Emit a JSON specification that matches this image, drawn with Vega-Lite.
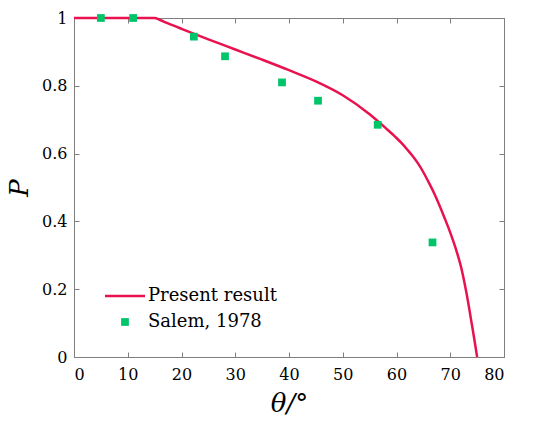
{
  "$schema": "https://vega.github.io/schema/vega-lite/v6.json",
  "width": 430,
  "height": 339,
  "autosize": "none",
  "padding": {"left": 74, "top": 18, "right": 46, "bottom": 78},
  "background": "white",
  "config": {
    "view": {"stroke": null},
    "font": "DejaVu Serif",
    "axis": {
      "domainColor": "#7f7f7f",
      "tickColor": "#7f7f7f",
      "grid": false,
      "labelColor": "black",
      "labelFont": "DejaVu Serif",
      "labelFontSize": 16,
      "titleFont": "DejaVu Serif",
      "titleFontWeight": "normal",
      "titleColor": "black",
      "titleFontStyle": "italic",
      "titleFontSize": 26,
      "tickSize": 5
    },
    "legend": {"labelFont": "DejaVu Serif"}
  },
  "datasets": {
    "present": [
      {"theta": 0, "P": 1, "series": "Present result"},
      {"theta": 15, "P": 1, "series": "Present result"},
      {"theta": 16, "P": 0.994, "series": "Present result"},
      {"theta": 17.5, "P": 0.984, "series": "Present result"},
      {"theta": 20, "P": 0.968, "series": "Present result"},
      {"theta": 25, "P": 0.937, "series": "Present result"},
      {"theta": 30, "P": 0.907, "series": "Present result"},
      {"theta": 35, "P": 0.877, "series": "Present result"},
      {"theta": 40, "P": 0.846, "series": "Present result"},
      {"theta": 45, "P": 0.813, "series": "Present result"},
      {"theta": 50, "P": 0.772, "series": "Present result"},
      {"theta": 55, "P": 0.716, "series": "Present result"},
      {"theta": 58, "P": 0.675, "series": "Present result"},
      {"theta": 60, "P": 0.646, "series": "Present result"},
      {"theta": 61, "P": 0.63, "series": "Present result"},
      {"theta": 62, "P": 0.612, "series": "Present result"},
      {"theta": 63, "P": 0.593, "series": "Present result"},
      {"theta": 64, "P": 0.571, "series": "Present result"},
      {"theta": 65, "P": 0.545, "series": "Present result"},
      {"theta": 66, "P": 0.515, "series": "Present result"},
      {"theta": 67, "P": 0.483, "series": "Present result"},
      {"theta": 68, "P": 0.447, "series": "Present result"},
      {"theta": 69, "P": 0.408, "series": "Present result"},
      {"theta": 70, "P": 0.367, "series": "Present result"},
      {"theta": 71, "P": 0.321, "series": "Present result"},
      {"theta": 72, "P": 0.266, "series": "Present result"},
      {"theta": 73, "P": 0.19, "series": "Present result"},
      {"theta": 74, "P": 0.098, "series": "Present result"},
      {"theta": 74.5, "P": 0.05, "series": "Present result"},
      {"theta": 75, "P": 0, "series": "Present result"}
    ],
    "salem": [
      {"theta": 5, "P": 1, "series": "Salem, 1978"},
      {"theta": 11, "P": 1, "series": "Salem, 1978"},
      {"theta": 22.3, "P": 0.945, "series": "Salem, 1978"},
      {"theta": 28.1, "P": 0.887, "series": "Salem, 1978"},
      {"theta": 38.7, "P": 0.81, "series": "Salem, 1978"},
      {"theta": 45.4, "P": 0.756, "series": "Salem, 1978"},
      {"theta": 56.5, "P": 0.685, "series": "Salem, 1978"},
      {"theta": 66.7, "P": 0.338, "series": "Salem, 1978"}
    ]
  },
  "layer": [
    {
      "data": {"name": "present"},
      "mark": {"type": "line", "strokeWidth": 2.5, "interpolate": "monotone"},
      "encoding": {
        "x": {
          "field": "theta", "type": "quantitative",
          "scale": {"domain": [0, 80], "nice": false},
          "axis": {"title": "θ/°", "values": [0, 10, 20, 30, 40, 50, 60, 70, 80], "tickSize": -5, "labelPadding": 14, "titlePadding": 8}
        },
        "y": {
          "field": "P", "type": "quantitative",
          "scale": {"domain": [0, 1], "nice": false},
          "axis": {"title": "P", "values": [0, 0.2, 0.4, 0.6, 0.8, 1], "format": "~g", "tickSize": -5, "labelPadding": 12, "titlePadding": 9}
        },
        "color": {
          "field": "series", "type": "nominal",
          "scale": {"domain": ["Present result", "Salem, 1978"], "range": ["#e8124f", "#00c46a"]},
          "legend": {
            "title": null,
            "orient": "none",
            "legendX": 42,
            "legendY": 269,
            "labelFontSize": 18,
            "labelColor": "black",
            "symbolSize": 3000,
            "rowPadding": 8,
            "symbolOffset": 0,
            "labelOffset": 14,
            "encode": {
              "symbols": {
                "update": {
                  "shape": {"signal": "datum.value === 'Present result' ? 'stroke' : 'square'"},
                  "size": {"signal": "datum.value === 'Present result' ? 1600 : 60"},
                  "strokeWidth": {"signal": "datum.value === 'Present result' ? 2.5 : 0"}
                }
              }
            }
          }
        }
      }
    },
    {
      "data": {"name": "salem"},
      "mark": {"type": "point", "shape": "square", "filled": true, "size": 60, "opacity": 1},
      "encoding": {
        "x": {
          "field": "theta", "type": "quantitative",
          "axis": {"orient": "top", "title": null, "labels": false, "values": [0, 10, 20, 30, 40, 50, 60, 70, 80], "tickSize": -5}
        },
        "y": {
          "field": "P", "type": "quantitative",
          "axis": {"orient": "right", "title": null, "labels": false, "values": [0, 0.2, 0.4, 0.6, 0.8, 1], "tickSize": -5}
        },
        "color": {"field": "series", "type": "nominal"}
      }
    }
  ],
  "resolve": {"axis": {"x": "independent", "y": "independent"}}
}
